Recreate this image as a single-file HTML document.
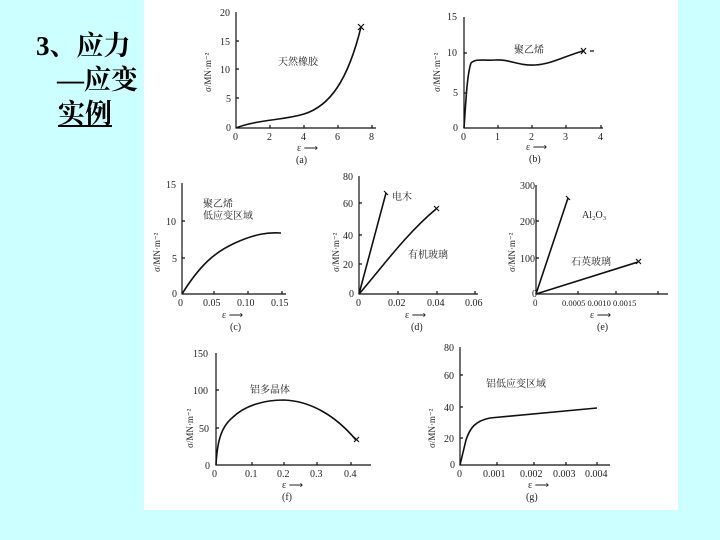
<!DOCTYPE html>
<html><head><meta charset="utf-8"><style>
body{margin:0;width:720px;height:540px;background:#ccffff;overflow:hidden;position:relative}
.t{position:absolute;font-family:"Liberation Serif","Noto Serif CJK SC",serif;font-weight:bold;font-size:27px;color:#000;line-height:34px}
svg{position:absolute;left:0;top:0}
svg text{font-family:"Liberation Serif","Noto Serif CJK SC",serif;font-size:10px;fill:#222}
</style></head><body>
<div class="t" style="left:36px;top:29px">3、应力</div>
<div class="t" style="left:57px;top:63px">—应变</div>
<div class="t" style="left:58px;top:97px;text-decoration:underline">实例</div>
<svg width="720" height="540" viewBox="0 0 720 540">
<rect x="144" y="0" width="534" height="510" fill="#fff"/>
<g stroke="#111" fill="none" stroke-width="1.2">
<path d="M236 12V128H376"/>
<path d="M270 128v-3M304 128v-3M338 128v-3M372 128v-3M236 41h3M236 69h3M236 98h3"/>
<path d="M236 128C255 120 285 120 304 114C330 106 348 80 361 27" stroke-width="1.6"/>
<path d="M358 24l6 6M364 24l-6 6"/>
<path d="M464 17V128H603"/>
<path d="M498 128v-3M532 128v-3M566 128v-3M601 128v-3M464 53h3M464 93h3"/>
<path d="M464 128C466 100 467 75 471 63C476 58 484 61 495 60C510 59 518 66 535 65C552 64 565 56 583 51" stroke-width="1.6"/>
<path d="M581 48l5 6M586 48l-5 6M590 51h4"/>
<path d="M182 183V294H286"/>
<path d="M214 294v-3M248 294v-3M282 294v-3M182 221h3M182 258h3"/>
<path d="M182 294C200 265 215 252 235 243C255 234 268 232 281 233" stroke-width="1.6"/>
<path d="M359 176V294H478"/>
<path d="M398 294v-3M437 294v-3M475 294v-3M359 203h3M359 235h3M359 264h3"/>
<path d="M359 294L386 193" stroke-width="1.6"/>
<path d="M359 294C380 270 405 235 436 209" stroke-width="1.6"/>
<path d="M434 206l5 5M439 206l-5 5M384 191l4 4"/>
<path d="M536 185V294H668"/>
<path d="M578 294v-3M616 294v-3M658 294v-3M536 221h3M536 258h3"/>
<path d="M536 294L568 198M536 294L638 262" stroke-width="1.6"/>
<path d="M636 259l5 5M641 259l-5 5M566 196l4 4"/>
<path d="M216 353V465H371"/>
<path d="M252 465v-3M284 465v-3M317 465v-3M351 465v-3M216 390h3M216 428h3"/>
<path d="M216 465C217 445 220 428 232 418C245 405 265 400 284 400C310 401 335 415 356 440" stroke-width="1.6"/>
<path d="M354 437l5 5M359 437l-5 5"/>
<path d="M460 347V465H610"/>
<path d="M497 465v-3M534 465v-3M566 465v-3M597 465v-3M460 375h3M460 407h3M460 438h3"/>
<path d="M460 465L466 440C470 428 475 421 490 418L597 408" stroke-width="1.6"/>
</g>
<g>
<text x="220" y="16">20</text><text x="220" y="45">15</text><text x="220" y="73">10</text><text x="226" y="102">5</text><text x="226" y="131">0</text>
<text x="233" y="140">0</text><text x="267" y="140">2</text><text x="301" y="140">4</text><text x="335" y="140">6</text><text x="369" y="140">8</text>
<text x="297" y="151">ε ⟶</text><text x="296" y="163">(a)</text><text x="278" y="65">天然橡胶</text>
<text x="447" y="20">15</text><text x="447" y="56">10</text><text x="453" y="96">5</text><text x="453" y="131">0</text>
<text x="461" y="140">0</text><text x="495" y="140">1</text><text x="529" y="140">2</text><text x="563" y="140">3</text><text x="598" y="140">4</text>
<text x="526" y="150">ε ⟶</text><text x="529" y="162">(b)</text><text x="514" y="53">聚乙烯</text>
<text x="166" y="188">15</text><text x="166" y="225">10</text><text x="172" y="262">5</text><text x="172" y="297">0</text>
<text x="178" y="306">0</text><text x="203" y="306">0.05</text><text x="237" y="306">0.10</text><text x="271" y="306">0.15</text>
<text x="222" y="318">ε ⟶</text><text x="230" y="330">(c)</text><text x="203" y="207">聚乙烯</text><text x="203" y="219">低应变区域</text>
<text x="343" y="180">80</text><text x="343" y="207">60</text><text x="343" y="239">40</text><text x="343" y="268">20</text><text x="349" y="297">0</text>
<text x="356" y="306">0</text><text x="388" y="306">0.02</text><text x="427" y="306">0.04</text><text x="465" y="306">0.06</text>
<text x="405" y="318">ε ⟶</text><text x="411" y="330">(d)</text><text x="392" y="200">电木</text><text x="408" y="258">有机玻璃</text>
<text x="520" y="189">300</text><text x="520" y="225">200</text><text x="520" y="262">100</text><text x="532" y="297">0</text>
<text x="533" y="306" style="font-size:9px">0</text><text x="562" y="306" style="font-size:8.5px">0.0005 0.0010 0.0015</text>
<text x="590" y="318">ε ⟶</text><text x="597" y="330">(e)</text><text x="582" y="218">Al₂O₃</text><text x="571" y="265">石英玻璃</text>
<text x="193" y="357">150</text><text x="193" y="394">100</text><text x="199" y="432">50</text><text x="205" y="469">0</text>
<text x="212" y="477">0</text><text x="245" y="477">0.1</text><text x="277" y="477">0.2</text><text x="310" y="477">0.3</text><text x="344" y="477">0.4</text>
<text x="282" y="488">ε ⟶</text><text x="282" y="500">(f)</text><text x="250" y="393">铝多晶体</text>
<text x="444" y="351">80</text><text x="444" y="379">60</text><text x="444" y="411">40</text><text x="444" y="442">20</text><text x="450" y="468">0</text>
<text x="457" y="477">0</text><text x="483" y="477">0.001</text><text x="520" y="477">0.002</text><text x="553" y="477">0.003</text><text x="585" y="477">0.004</text>
<text x="528" y="488">ε ⟶</text><text x="526" y="500">(g)</text><text x="486" y="387">铝低应变区域</text>
<text transform="translate(211,92) rotate(-90)" style="font-size:9px">σ/MN·m⁻²</text>
<text transform="translate(440,92) rotate(-90)" style="font-size:9px">σ/MN·m⁻²</text>
<text transform="translate(160,272) rotate(-90)" style="font-size:9px">σ/MN·m⁻²</text>
<text transform="translate(339,272) rotate(-90)" style="font-size:9px">σ/MN·m⁻²</text>
<text transform="translate(515,272) rotate(-90)" style="font-size:9px">σ/MN·m⁻²</text>
<text transform="translate(193,448) rotate(-90)" style="font-size:9px">σ/MN·m⁻²</text>
<text transform="translate(435,448) rotate(-90)" style="font-size:9px">σ/MN·m⁻²</text>
</g>
</svg>
</body></html>
